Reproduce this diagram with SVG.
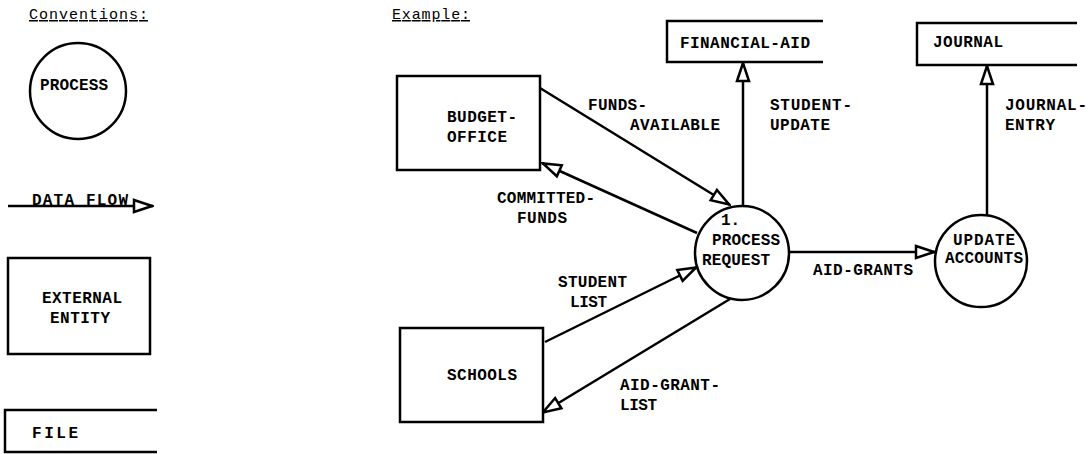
<svg xmlns="http://www.w3.org/2000/svg" width="1089" height="454" viewBox="0 0 1089 454">
<style>
text{font-family:"Liberation Mono","DejaVu Sans Mono",monospace;font-size:16px;font-weight:bold;fill:#000}
.hd{font-weight:normal;font-size:15px;text-decoration:underline}
.s{fill:none;stroke:#000;stroke-width:2.5}
.c{fill:#fff;stroke:#000;stroke-width:2.5}
.f{stroke:#000;stroke-width:2.5;fill:none;marker-end:url(#ah)}
</style>
<defs>
<marker id="ah" viewBox="0 0 22 16" refX="21" refY="8" markerWidth="22" markerHeight="16" markerUnits="userSpaceOnUse" orient="auto">
<path d="M2,2 L20,8 L2,14 Z" fill="#fff" stroke="#000" stroke-width="2.5"/>
</marker>
</defs>
<rect width="1089" height="454" fill="#fff"/>
<g id="legend">
<text class="hd" x="29" y="19" textLength="119" lengthAdjust="spacing">Conventions:</text>
<g id="legend-process"><circle class="c" cx="78" cy="91" r="48"/><text x="40" y="90" textLength="68" lengthAdjust="spacing">PROCESS</text></g>
<g id="legend-flow"><line class="f" x1="8" y1="206" x2="153" y2="206"/><text x="32" y="205" textLength="96" lengthAdjust="spacing">DATA FLOW</text></g>
<g id="legend-entity"><rect class="c" x="8" y="258" width="142" height="96"/><text x="42" y="303" textLength="80" lengthAdjust="spacing">EXTERNAL</text><text x="50" y="323" textLength="60" lengthAdjust="spacing">ENTITY</text></g>
<g id="legend-file"><path class="s" d="M157,410 H5 V452 H157"/><text x="32" y="438" textLength="46" lengthAdjust="spacing">FILE</text></g>
</g>
<text class="hd" x="392" y="19" textLength="78" lengthAdjust="spacing">Example:</text>
<g id="connectors">
<line class="f" x1="540" y1="88" x2="730" y2="205"/>
<line class="f" x1="697" y1="233" x2="542" y2="163"/>
<line class="f" x1="743" y1="206" x2="743" y2="62"/>
<line class="f" x1="987" y1="215" x2="987" y2="65"/>
<line class="f" x1="789" y1="252" x2="935" y2="252"/>
<line class="f" x1="545" y1="342" x2="697" y2="267"/>
<line class="f" x1="730" y1="299" x2="542" y2="413"/>
</g>
<g id="budget-office"><rect class="c" x="397" y="76" width="143" height="94"/><text x="447" y="122" textLength="70" lengthAdjust="spacing">BUDGET-</text><text x="447" y="142" textLength="60" lengthAdjust="spacing">OFFICE</text></g>
<g id="financial-aid"><path class="s" d="M823,21 H667 V62 H823"/><text x="680" y="48" textLength="130" lengthAdjust="spacing">FINANCIAL-AID</text></g>
<g id="journal"><path class="s" d="M1077,23 H917 V65 H1077"/><text x="933" y="47" textLength="70" lengthAdjust="spacing">JOURNAL</text></g>
<g id="process-request"><circle class="c" cx="742" cy="253" r="47"/><text x="721" y="225">1.</text><text x="712" y="245" textLength="68" lengthAdjust="spacing">PROCESS</text><text x="702" y="265" textLength="68" lengthAdjust="spacing">REQUEST</text></g>
<g id="update-accounts"><circle class="c" cx="981" cy="261" r="46"/><text x="953" y="245" textLength="62" lengthAdjust="spacing">UPDATE</text><text x="945" y="263" textLength="78" lengthAdjust="spacing">ACCOUNTS</text></g>
<g id="schools"><rect class="c" x="400" y="328" width="143" height="94"/><text x="447" y="380" textLength="70" lengthAdjust="spacing">SCHOOLS</text></g>
<g id="labels">
<text x="588" y="110" textLength="59" lengthAdjust="spacing">FUNDS-</text>
<text x="630" y="130" textLength="90" lengthAdjust="spacing">AVAILABLE</text>
<text x="770" y="110" textLength="82" lengthAdjust="spacing">STUDENT-</text>
<text x="770" y="130" textLength="60" lengthAdjust="spacing">UPDATE</text>
<text x="1005" y="110" textLength="82" lengthAdjust="spacing">JOURNAL-</text>
<text x="1005" y="130" textLength="50" lengthAdjust="spacing">ENTRY</text>
<text x="497" y="203" textLength="98" lengthAdjust="spacing">COMMITTED-</text>
<text x="517" y="223" textLength="50" lengthAdjust="spacing">FUNDS</text>
<text x="813" y="275" textLength="100" lengthAdjust="spacing">AID-GRANTS</text>
<text x="558" y="287" textLength="69" lengthAdjust="spacing">STUDENT</text>
<text x="570" y="307" textLength="37" lengthAdjust="spacing">LIST</text>
<text x="620" y="390" textLength="100" lengthAdjust="spacing">AID-GRANT-</text>
<text x="620" y="410" textLength="37" lengthAdjust="spacing">LIST</text>
</g>
</svg>
